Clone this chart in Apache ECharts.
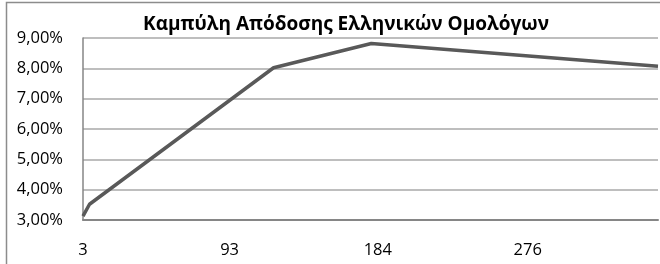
<!DOCTYPE html>
<html>
<head>
<meta charset="utf-8">
<script src="https://cdn.jsdelivr.net/npm/echarts@6/dist/echarts.min.js"></script>
<style>
  html, body { margin: 0; padding: 0; background: #fff; }
  #main { width: 660px; height: 264px; }
</style>
</head>
<body>
<div id="main"></div>
<script>
// yield curve points: days to maturity / yield (%)
var days = [3, 7, 120, 180, 356];
var yields = [3.13, 3.52, 8.02, 8.82, 8.07];
var xTicks = [3, 93, 184, 276];
var titleText = 'Καμπύλη Απόδοσης Ελληνικών Ομολόγων';

var myChart = echarts.init(document.getElementById('main'));

var points = days.map(function (d, i) {
    return [d, yields[i]];
});

var labelFont = {
    fontFamily: 'Open Sans',
    fontSize: 16.5,
    color: '#000'
};

option = {
    animation: false,
    title: {
        text: titleText,
        left: 341,
        textAlign: 'center',
        top: 10,
        textStyle: {
            fontFamily: 'Open Sans',
            fontWeight: 'bold',
            fontSize: 19,
            color: '#000'
        }
    },
    graphic: [{
        // outer chart frame
        type: 'rect',
        shape: { x: 6.5, y: 2.5, width: 700, height: 300 },
        style: { fill: 'none', stroke: '#8c8c8c', lineWidth: 1.5 },
        silent: true
    }],
    grid: {
        left: 83,
        right: 2,
        top: 38,
        bottom: 44,
        containLabel: false
    },
    xAxis: {
        type: 'value',
        min: 3,
        max: 356,
        splitLine: { show: false },
        axisTick: { show: false },
        axisLine: { show: true, lineStyle: { color: '#868686', width: 2 } },
        axisLabel: Object.assign({
            customValues: xTicks,
            margin: 22,
            hideOverlap: false
        }, labelFont)
    },
    yAxis: {
        type: 'value',
        min: 3,
        max: 9,
        interval: 1,
        axisTick: { show: false },
        axisLine: { show: true, lineStyle: { color: '#868686', width: 1.5 } },
        splitLine: { show: true, lineStyle: { color: '#a8a8a8', width: 1.5 } },
        axisLabel: Object.assign({
            margin: 20,
            formatter: function (v) {
                return v.toFixed(2).replace('.', ',') + '%';
            }
        }, labelFont)
    },
    series: [{
        type: 'line',
        data: points,
        showSymbol: false,
        symbol: 'none',
        lineStyle: { color: '#595959', width: 3.5 }
    }]
};
myChart.setOption(option);
</script>
</body>
</html>
